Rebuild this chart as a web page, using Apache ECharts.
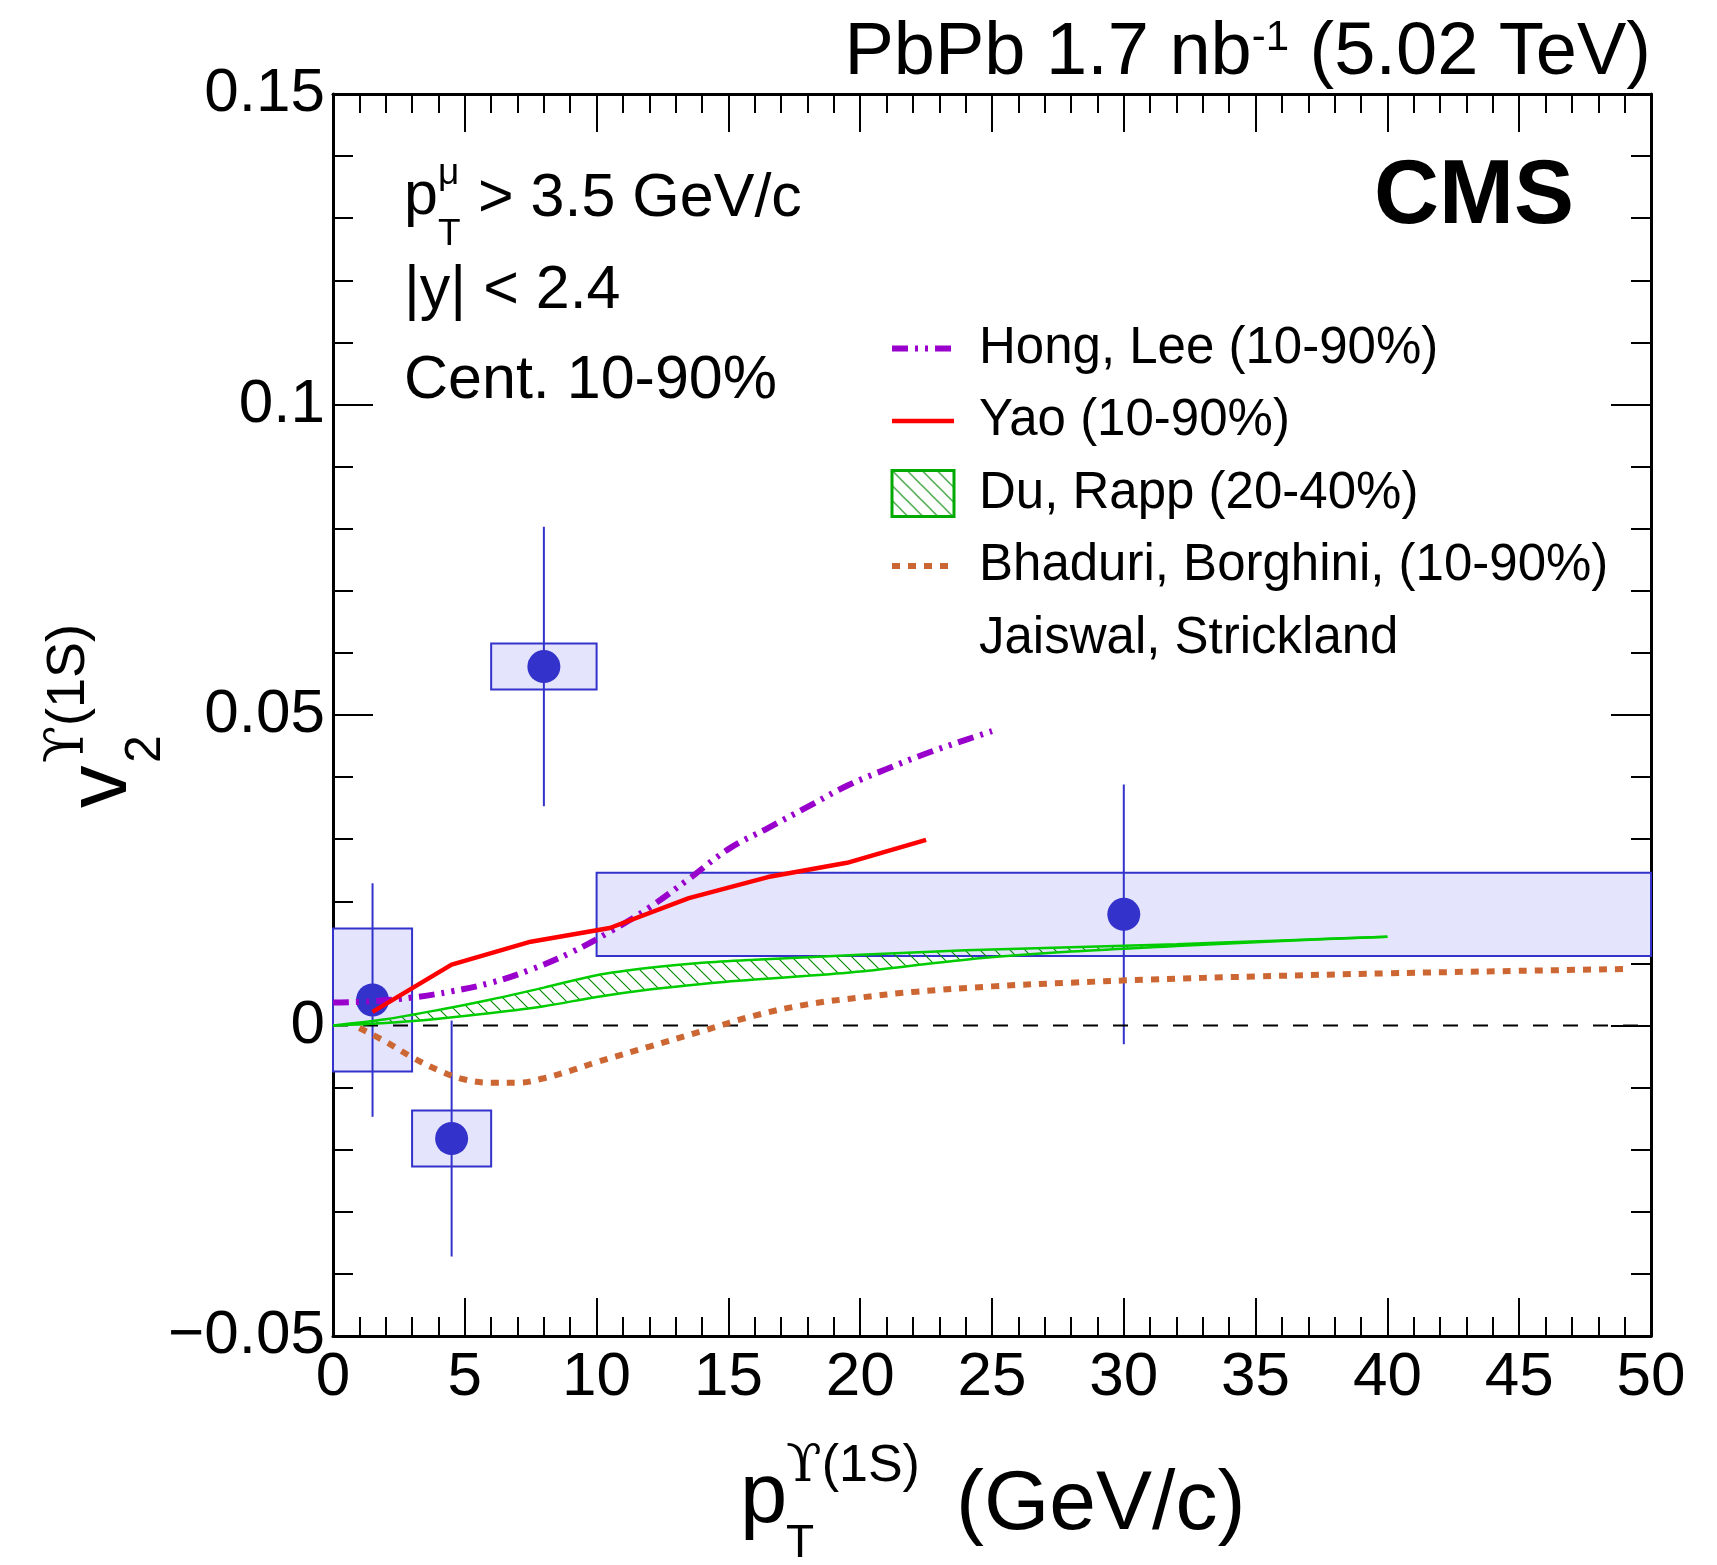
<!DOCTYPE html>
<html>
<head>
<meta charset="utf-8">
<script src="https://cdn.jsdelivr.net/npm/echarts@6/dist/echarts.min.js"></script>
<style>
  html, body { margin: 0; padding: 0; background: #fff; }
  #chart { width: 1717px; height: 1565px; }
</style>
</head>
<body>
<div id="chart"></div>
<script>
// ---- Measured v2 of Upsilon(1S) per pT bin ----
const binLo = [0, 3, 6, 10];
const binHi = [3, 6, 10, 50];
const ptCenter = [1.5, 4.5, 8.0, 30.0];
const v2 = [0.0041, -0.0182, 0.0578, 0.0179];
const statErr = [0.0188, 0.0190, 0.0225, 0.0209];
const systErr = [0.0115, 0.0045, 0.0037, 0.0067];

// ---- Model curves ----
const hongLeeX = [0, 1.5, 3, 4.5, 6, 7.5, 9, 10.5, 12, 13.5, 15, 16.5, 18, 19.5, 21, 22.5, 24, 25];
const hongLeeY = [0.0037, 0.0039, 0.0045, 0.0055, 0.0069, 0.0090, 0.0117, 0.0151, 0.0190, 0.0236, 0.0284, 0.0318, 0.0352, 0.0386, 0.0413, 0.0438, 0.0460, 0.0474];

const yaoX = [1.5, 4.5, 7.5, 10.5, 13.5, 16.5, 19.5, 22.5];
const yaoY = [0.0022, 0.0098, 0.0135, 0.0157, 0.0205, 0.0239, 0.0262, 0.0299];

const duRappX  = [0, 2, 4, 6, 8, 10, 12, 14, 16, 18, 20, 24, 28, 32, 36, 40];
const duRappHi = [0, 0.0010, 0.0025, 0.0042, 0.0061, 0.0081, 0.0093, 0.0101, 0.0106, 0.0110, 0.0114, 0.0121, 0.0126, 0.0131, 0.0137, 0.0143];
const duRappLo = [0, 0.0004, 0.0011, 0.0020, 0.0031, 0.0046, 0.0058, 0.0067, 0.0074, 0.0080, 0.0087, 0.0106, 0.0119, 0.0128, 0.0136, 0.0143];

const bhaduriX = [1, 2, 3, 4, 5, 6, 7, 8, 9, 10, 12, 14, 16, 18, 20, 22, 25, 28, 31, 35, 40, 45, 49];
const bhaduriY = [-0.0004, -0.0026, -0.0051, -0.0072, -0.0087, -0.0092, -0.0092, -0.0085, -0.0073, -0.0059, -0.0034, -0.0009, 0.0016, 0.0034, 0.0045, 0.0054, 0.0063, 0.0069, 0.0074, 0.0079, 0.0084, 0.0088, 0.0091];

// ---- Axis ticks ----
const xTicks = [0, 5, 10, 15, 20, 25, 30, 35, 40, 45, 50];
const yTicks = [-0.05, 0, 0.05, 0.1, 0.15];

const FONT = '"Liberation Sans", Arial, Helvetica, sans-serif';
const SERIF = '"DejaVu Serif", "Liberation Serif", serif';
const UPS = '\u03d2';
const BLUE = '#3333cc';
const BOX_FILL = '#e4e4fc';
const PURPLE = '#9900cc';
const RED = '#ff0000';
const GREEN = '#00cc00';
const ORANGE = '#cc6633';

const HONG_DASH = [16, 7, 3, 7, 3, 7];
const BHADURI_DASH = [8, 8];

function zip(xs, ys) { return xs.map((x, i) => [x, ys[i]]); }

// diagonal hatch tile for the Du-Rapp band
const hatchCanvas = document.createElement('canvas');
hatchCanvas.width = 15; hatchCanvas.height = 15;
(function () {
  const c = hatchCanvas.getContext('2d');
  c.strokeStyle = '#008800';
  c.lineWidth = 1.1;
  c.beginPath();
  c.moveTo(-2, -2); c.lineTo(17, 17);
  c.moveTo(-2, 13); c.lineTo(2, 17);
  c.moveTo(13, -2); c.lineTo(17, 2);
  c.stroke();
})();
const hatch = { image: hatchCanvas, repeat: 'repeat' };

function fmtY(v) {
  if (Math.abs(v) < 1e-9) return '0';
  return parseFloat(v.toFixed(3)).toString().replace('-', '\u2212');
}

const chart = echarts.init(document.getElementById('chart'), null, { renderer: 'canvas' });

const axisCommon = {
  axisLine: { onZero: false, lineStyle: { color: '#000', width: 3 } },
  splitLine: { show: false },
};

const hideSymbol = { opacity: 0 };

const option = {
  backgroundColor: '#fff',
  animation: false,
  grid: { left: 333, right: 66, top: 94, bottom: 229, containLabel: false },
  xAxis: [
    Object.assign({}, axisCommon, {
      type: 'value', min: xTicks[0], max: xTicks[xTicks.length - 1], interval: xTicks[1] - xTicks[0],
      position: 'bottom',
      axisTick: { inside: true, length: 38, lineStyle: { color: '#000', width: 2 } },
      minorTick: { show: true, splitNumber: 5, length: 19, lineStyle: { color: '#000', width: 2 } },
      axisLabel: { fontSize: 62, fontFamily: FONT, color: '#000', margin: 11, showMinLabel: true, showMaxLabel: true },
    }),
    Object.assign({}, axisCommon, {
      type: 'value', min: xTicks[0], max: xTicks[xTicks.length - 1], interval: xTicks[1] - xTicks[0],
      position: 'top',
      axisTick: { inside: true, length: 38, lineStyle: { color: '#000', width: 2 } },
      minorTick: { show: true, splitNumber: 5, length: 19, lineStyle: { color: '#000', width: 2 } },
      axisLabel: { show: false },
    }),
  ],
  yAxis: [
    Object.assign({}, axisCommon, {
      type: 'value', min: yTicks[0], max: yTicks[yTicks.length - 1], interval: yTicks[2] - yTicks[1],
      position: 'left',
      axisTick: { inside: true, length: 40, lineStyle: { color: '#000', width: 2 } },
      minorTick: { show: true, splitNumber: 5, length: 20, lineStyle: { color: '#000', width: 2 } },
      axisLabel: { fontSize: 62, fontFamily: FONT, color: '#000', margin: 8, formatter: fmtY, showMinLabel: true, showMaxLabel: true },
    }),
    Object.assign({}, axisCommon, {
      type: 'value', min: yTicks[0], max: yTicks[yTicks.length - 1], interval: yTicks[2] - yTicks[1],
      position: 'right',
      axisTick: { inside: true, length: 40, lineStyle: { color: '#000', width: 2 } },
      minorTick: { show: true, splitNumber: 5, length: 20, lineStyle: { color: '#000', width: 2 } },
      axisLabel: { show: false },
    }),
  ],
  legend: {
    orient: 'vertical', left: 889, top: 323, padding: 0,
    itemWidth: 62, itemHeight: 46, itemGap: 21.5, selectedMode: false,
    textStyle: { fontSize: 51, fontFamily: FONT, color: '#000', padding: [0, 0, 0, 20] },
    data: [
      { name: 'Hong, Lee (10-90%)', itemStyle: hideSymbol,
        lineStyle: { color: PURPLE, width: 6, type: HONG_DASH, cap: 'butt' } },
      { name: 'Yao (10-90%)', itemStyle: hideSymbol,
        lineStyle: { color: RED, width: 4.5, type: 'solid' } },
      { name: 'Du, Rapp (20-40%)', icon: 'rect', itemStyle: { color: hatch, borderColor: '#00aa00', borderWidth: 3 } },
      { name: 'Bhaduri, Borghini, (10-90%)', itemStyle: hideSymbol,
        lineStyle: { color: ORANGE, width: 6, type: BHADURI_DASH, cap: 'butt' } },
      { name: 'Jaiswal, Strickland', icon: 'none', itemStyle: hideSymbol },
    ],
  },
  series: [
    // systematic boxes
    {
      type: 'custom', z: 1, silent: true,
      data: binLo.map((lo, i) => [ptCenter[i], v2[i]]),
      encode: { x: 0, y: 1 },
      renderItem: function (params, api) {
        const i = params.dataIndex;
        const p1 = api.coord([binLo[i], v2[i] + systErr[i]]);
        const p2 = api.coord([binHi[i], v2[i] - systErr[i]]);
        return {
          type: 'rect',
          shape: { x: p1[0], y: p1[1], width: p2[0] - p1[0], height: p2[1] - p1[1] },
          style: { fill: BOX_FILL, stroke: BLUE, lineWidth: 2 },
        };
      },
    },
    // statistical error bars
    {
      type: 'custom', z: 2, silent: true,
      data: ptCenter.map((x, i) => [x, v2[i]]),
      encode: { x: 0, y: 1 },
      renderItem: function (params, api) {
        const i = params.dataIndex;
        const a = api.coord([ptCenter[i], v2[i] + statErr[i]]);
        const b = api.coord([ptCenter[i], v2[i] - statErr[i]]);
        return {
          type: 'line',
          shape: { x1: a[0], y1: a[1], x2: b[0], y2: b[1] },
          style: { stroke: BLUE, lineWidth: 2 },
        };
      },
    },
    // data points
    {
      type: 'scatter', z: 3, silent: true,
      data: zip(ptCenter, v2),
      symbol: 'circle', symbolSize: 33,
      itemStyle: { color: BLUE, opacity: 1 },
    },
    // zero reference line
    {
      type: 'line', z: 3, silent: true, symbol: 'none',
      data: [[xTicks[0], 0], [xTicks[xTicks.length - 1], 0]],
      lineStyle: { color: '#000', width: 2, type: [15, 15] },
    },
    // Du, Rapp band (hatched)
    {
      type: 'custom', name: 'Du, Rapp (20-40%)', z: 4, silent: true,
      data: [[duRappX[0], duRappHi[0]]],
      encode: { x: 0, y: 1 },
      itemStyle: { color: GREEN },
      renderItem: function (params, api) {
        const pts = [];
        for (let i = 0; i < duRappX.length; i++) pts.push(api.coord([duRappX[i], duRappHi[i]]));
        for (let i = duRappX.length - 1; i >= 0; i--) pts.push(api.coord([duRappX[i], duRappLo[i]]));
        return { type: 'polygon', shape: { points: pts, smooth: 0 }, style: { fill: hatch, stroke: null } };
      },
    },
    {
      type: 'line', z: 4, silent: true, symbol: 'none', smooth: 0.3,
      data: zip(duRappX, duRappHi),
      lineStyle: { color: GREEN, width: 2.5 },
    },
    {
      type: 'line', z: 4, silent: true, symbol: 'none', smooth: 0.3,
      data: zip(duRappX, duRappLo),
      lineStyle: { color: GREEN, width: 2.5 },
    },
    // Bhaduri, Borghini, Jaiswal, Strickland
    {
      type: 'line', name: 'Bhaduri, Borghini, (10-90%)', z: 5, silent: true, symbol: 'none', smooth: 0.4,
      data: zip(bhaduriX, bhaduriY),
      color: ORANGE,
      lineStyle: { color: ORANGE, width: 6, type: BHADURI_DASH, cap: 'butt' },
    },
    // Hong, Lee
    {
      type: 'line', name: 'Hong, Lee (10-90%)', z: 5, silent: true, symbol: 'none', smooth: 0.4,
      data: zip(hongLeeX, hongLeeY),
      color: PURPLE,
      lineStyle: { color: PURPLE, width: 6, type: HONG_DASH, cap: 'butt' },
    },
    // Yao
    {
      type: 'line', name: 'Yao (10-90%)', z: 6, silent: true, symbol: 'none',
      data: zip(yaoX, yaoY),
      color: RED,
      lineStyle: { color: RED, width: 4.5 },
    },
    // second legend line of the Bhaduri et al. entry
    {
      type: 'line', name: 'Jaiswal, Strickland', silent: true, symbol: 'none',
      data: [],
      lineStyle: { opacity: 0 },
    },
  ],
  graphic: [
    // energy / luminosity header
    {
      type: 'text', x: 1651, y: 54,
      style: {
        text: 'PbPb 1.7 nb{sup|-1} (5.02 TeV)',
        fontSize: 74, fontFamily: FONT, fill: '#000', align: 'right', verticalAlign: 'middle',
        rich: { sup: { fontSize: 42, fontFamily: FONT, verticalAlign: 'top', padding: [0, 0, 14, 0] } },
      },
    },
    {
      type: 'text', x: 1574, y: 198,
      style: { text: 'CMS', fontSize: 90, fontWeight: 'bold', fontFamily: FONT, fill: '#000', align: 'right', verticalAlign: 'middle' },
    },
    // selection labels
    { type: 'text', x: 404, y: 197, style: { text: 'p', fontSize: 61, fontFamily: FONT, fill: '#000', verticalAlign: 'middle' } },
    { type: 'text', x: 438, y: 174, style: { text: '\u03bc', fontSize: 37, fontFamily: FONT, fill: '#000', verticalAlign: 'middle' } },
    { type: 'text', x: 438, y: 235, style: { text: 'T', fontSize: 37, fontFamily: FONT, fill: '#000', verticalAlign: 'middle' } },
    { type: 'text', x: 478, y: 199, style: { text: '> 3.5 GeV/c', fontSize: 61, fontFamily: FONT, fill: '#000', verticalAlign: 'middle' } },
    { type: 'text', x: 404, y: 291, style: { text: '|y| < 2.4', fontSize: 61, fontFamily: FONT, fill: '#000', verticalAlign: 'middle' } },
    { type: 'text', x: 404, y: 381, style: { text: 'Cent. 10-90%', fontSize: 61, fontFamily: FONT, fill: '#000', verticalAlign: 'middle' } },
    // x axis title
    { type: 'text', x: 740, y: 1499, style: { text: 'p', fontSize: 85, fontFamily: FONT, fill: '#000', verticalAlign: 'middle' } },
    { type: 'text', x: 786, y: 1544, style: { text: 'T', fontSize: 46, fontFamily: FONT, fill: '#000', verticalAlign: 'middle' } },
    {
      type: 'text', x: 786, y: 1467,
      style: { text: '{u|' + UPS + '}(1S)', fontSize: 52, fontFamily: FONT, fill: '#000', verticalAlign: 'middle',
        rich: { u: { fontSize: 52, fontFamily: SERIF, fill: '#000' } } },
    },
    { type: 'text', x: 956, y: 1506, style: { text: '(GeV/c)', fontSize: 84, fontFamily: FONT, fill: '#000', verticalAlign: 'middle' } },
    // y axis title (rotated)
    { type: 'text', x: 103, y: 808, rotation: Math.PI / 2, style: { text: 'v', fontSize: 85, fontFamily: FONT, fill: '#000', verticalAlign: 'middle' } },
    { type: 'text', x: 146, y: 763, rotation: Math.PI / 2, style: { text: '2', fontSize: 50, fontFamily: FONT, fill: '#000', verticalAlign: 'middle' } },
    {
      type: 'text', x: 69, y: 763, rotation: Math.PI / 2,
      style: { text: '{u|' + UPS + '}(1S)', fontSize: 54, fontFamily: FONT, fill: '#000', verticalAlign: 'middle',
        rich: { u: { fontSize: 54, fontFamily: SERIF, fill: '#000' } } },
    },
  ],
};

chart.setOption(option);
</script>
</body>
</html>
